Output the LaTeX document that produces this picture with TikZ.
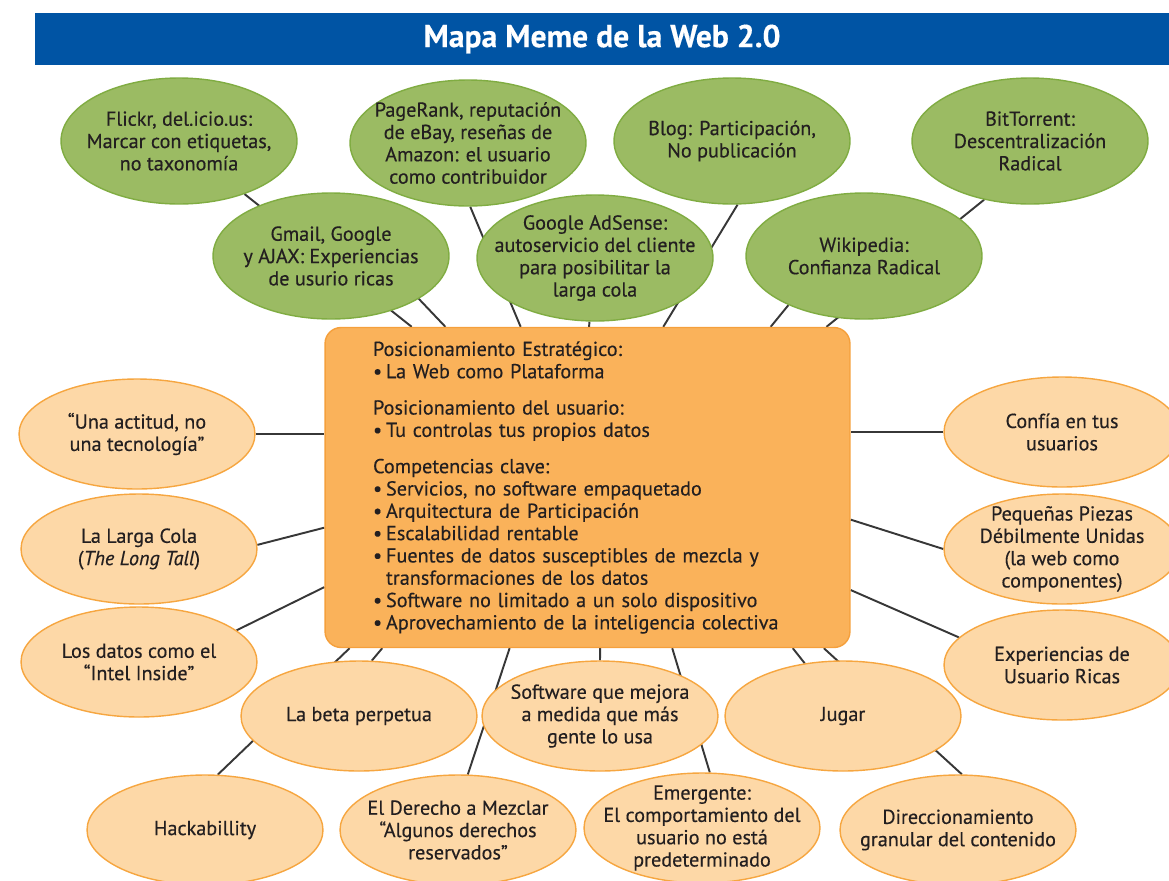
\documentclass[tikz,border=0pt]{standalone}
\usepackage{fontspec}
\setmainfont{PT Sans}[FakeBold=0.35]
\usetikzlibrary{shapes.geometric,calc}
\pgfdeclarelayer{bg}
\pgfsetlayers{bg,main}
\definecolor{barblue}{RGB}{0,84,164}
\definecolor{greenfill}{RGB}{155,187,99}
\definecolor{greenline}{RGB}{128,172,66}
\definecolor{orfill}{RGB}{253,216,167}
\definecolor{orline}{RGB}{246,166,64}
\definecolor{boxfill}{RGB}{250,178,90}
\definecolor{boxline}{RGB}{245,160,60}
\definecolor{linecol}{RGB}{55,55,55}
\definecolor{textcol}{RGB}{35,31,32}
\newcommand{\mmfont}{\fontsize{11.5}{12.7}\selectfont}
\newcommand{\bul}{\makebox[0.26cm][l]{•}}
\tikzset{
  greenell/.style={ellipse, draw=greenline, fill=greenfill, line width=0.8pt,
    minimum width=4.72cm, minimum height=2.52cm, inner sep=-1.5cm,
    align=center, font=\mmfont, text=textcol},
  orangeell/.style={ellipse, draw=orline, fill=orfill, line width=0.8pt,
    minimum width=4.72cm, minimum height=2.2cm, inner sep=-1.5cm,
    align=center, font=\mmfont, text=textcol},
  centralbox/.style={rectangle, rounded corners=0.32cm, draw=boxline, fill=boxfill,
    line width=0.8pt, minimum width=10.5cm, minimum height=6.4cm,
    text width=8.58cm, inner xsep=0.96cm, align=left, font=\mmfont, text=textcol},
  titlebar/.style={rectangle, fill=barblue, minimum width=22.68cm, minimum height=1.04cm,
    inner sep=0pt, text=white, font=\fontsize{18}{20}\selectfont\bfseries},
  link/.style={draw=linecol, line width=1.1pt},
}
\begin{document}
\begin{tikzpicture}[x=0.02cm, y=-0.02cm]
\useasboundingbox (0,0) rectangle (1169,880);

\node[titlebar] (title) at (602,39) {Mapa Meme de la Web 2.0};

% green ellipses
\node[greenell] (flickr) at (179,141) {Flickr, del.icio.us:\\Marcar con etiquetas,\\no taxonomía};
\node[greenell] (pagerank) at (468,143) {PageRank, reputación\\de eBay, reseñas de\\Amazon: el usuario\\como contribuidor};
\node[greenell] (blog) at (732,141) {Blog: Participación,\\No publicación};
\node[greenell] (bit) at (1030,141) {BitTorrent:\\Descentralización\\Radical};
\node[greenell] (gmail) at (331,256) {Gmail, Google\\y AJAX: Experiencias\\de usurio ricas};
\node[greenell] (adsense) at (595,258) {Google AdSense:\\autoservicio del cliente\\para posibilitar la\\larga cola};
\node[greenell] (wiki) at (864,256) {Wikipedia:\\Confianza Radical};

% central box
\node[centralbox] (box) at (587.5,487.5) {%
Posicionamiento Estratégico:\\
\bul La Web como Plataforma\\[0.28cm]
Posicionamiento del usuario:\\
\bul Tu controlas tus propios datos\\[0.28cm]
Competencias clave:\\
\bul Servicios, no software empaquetado\\
\bul Arquitectura de Participación\\
\bul Escalabilidad rentable\\
\bul Fuentes de datos susceptibles de mezcla y\\
\hspace*{0.26cm}transformaciones de los datos\\
\bul Software no limitado a un solo dispositivo\\
\bul Aprovechamiento de la inteligencia colectiva};

% orange ellipses left
\node[orangeell] (una) at (137,434) {“Una actitud, no\\una tecnología”};
\node[orangeell] (larga) at (139,549) {La Larga Cola\\(\textit{The Long Tall})};
\node[orangeell] (datos) at (139,662) {Los datos como el\\“Intel Inside”};
% right
\node[orangeell] (confia) at (1062,432) {Confía en tus\\usuarios};
\node[orangeell] (pequenas) at (1062,549) {Pequeñas Piezas\\Débilmente Unidas\\(la web como\\componentes)};
\node[orangeell] (exper) at (1062,665) {Experiencias de\\Usuario Ricas};
% middle row
\node[orangeell] (beta) at (359,716) {La beta perpetua};
\node[orangeell] (software) at (600,716) {Software que mejora\\a medida que más\\gente lo usa};
\node[orangeell] (jugar) at (843,716) {Jugar};
% bottom row
\node[orangeell] (hack) at (205,830) {Hackabillity};
\node[orangeell] (derecho) at (458,830) {El Derecho a Mezclar\\“Algunos derechos\\reservados”};
\node[orangeell] (emergente) at (702,828) {Emergente:\\El comportamiento del\\usuario no está\\predeterminado};
\node[orangeell] (direcc) at (958,830) {Direccionamiento\\granular del contenido};

\begin{pgfonlayer}{bg}
\draw[link] (flickr.-39) -- ($(box.north west)!0.166!(box.north east)$);
\draw[link] (gmail.-26) -- ($(box.north west)!0.230!(box.north east)$);
\draw[link] (pagerank.-88) -- ($(box.north west)!0.373!(box.north east)$);
\draw[link] (adsense.-95) -- ($(box.north west)!0.503!(box.north east)$);
\draw[link] (blog.-85) -- ($(box.north west)!0.644!(box.north east)$);
\draw[link] (wiki.-147) -- ($(box.north west)!0.848!(box.north east)$);
\draw[link] (bit.-128) -- ($(box.north west)!0.954!(box.north east)$);
\draw[link] (una.east) -- (una.east -| box.west);
\draw[link] (larga.2) -- ($(box.north west)!0.625!(box.south west)$);
\draw[link] (datos.18) -- ($(box.north west)!0.81!(box.south west)$);
\draw[link] (hack.77) -- ($(box.south west)!0.048!(box.south east)$);
\draw[link] (beta.77) -- ($(box.south west)!0.110!(box.south east)$);
\draw[link] (derecho.80) -- ($(box.south west)!0.352!(box.south east)$);
\draw[link] (software.north) -- ($(box.south west)!0.524!(box.south east)$);
\draw[link] (emergente.82) -- ($(box.south west)!0.661!(box.south east)$);
\draw[link] (jugar.126) -- ($(box.south west)!0.890!(box.south east)$);
\draw[link] (direcc.86) -- ($(box.south west)!0.949!(box.south east)$);
\draw[link] (confia.west) -- (confia.west -| box.east);
\draw[link] (pequenas.180) -- ($(box.north east)!0.60!(box.south east)$);
\draw[link] (exper.165) -- ($(box.north east)!0.819!(box.south east)$);
\end{pgfonlayer}
\end{tikzpicture}
\end{document}
